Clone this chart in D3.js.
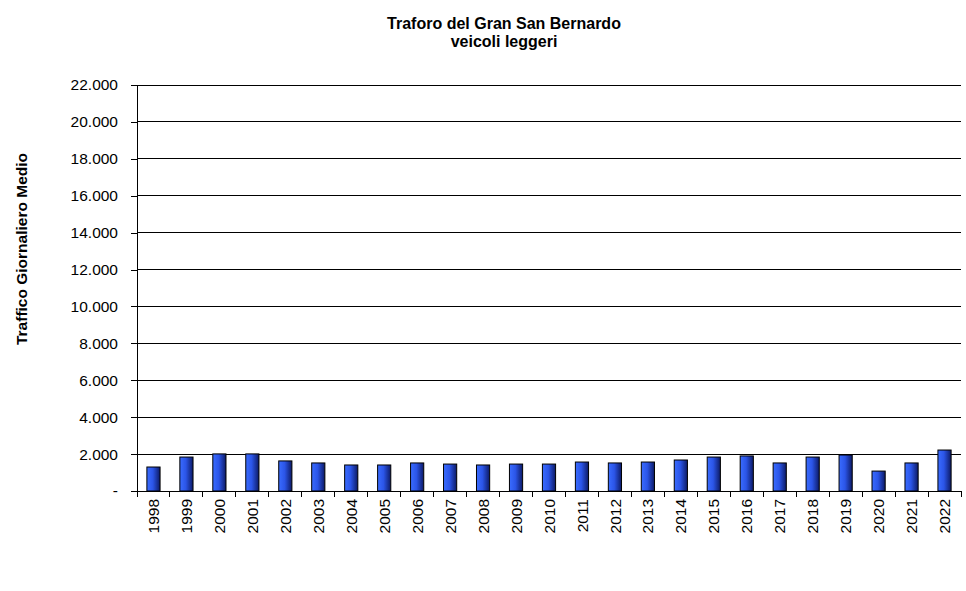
<!DOCTYPE html>
<html><head><meta charset="utf-8">
<script src="https://cdn.jsdelivr.net/npm/d3@7"></script>
<style>body{margin:0;background:#fff}svg{display:block}text{font-family:Arial,"Liberation Sans",sans-serif}</style>
</head><body>
<svg id="c" width="966" height="591"></svg>
<script>
const years = ["1998","1999","2000","2001","2002","2003","2004","2005","2006","2007","2008","2009","2010","2011","2012","2013","2014","2015","2016","2017","2018","2019","2020","2021","2022"];
const values = [1300,1840,2010,2010,1630,1520,1410,1410,1520,1460,1410,1460,1460,1570,1520,1570,1680,1840,1900,1520,1840,1950,1080,1520,2220];
const yTicks = [0,2000,4000,6000,8000,10000,12000,14000,16000,18000,20000,22000];
const titleLines = ["Traforo del Gran San Bernardo","veicoli leggeri"];
const yTitle = "Traffico Giornaliero Medio";

const svg = d3.select("#c");
const L=137, R=961, T=85, B=491;
const x = d3.scaleBand().domain(years).range([L,R]).paddingInner(0.6).paddingOuter(0.3);
const y = d3.scaleLinear().domain([0,22000]).range([B,T]);

const defs = svg.append("defs");
const g = defs.append("linearGradient").attr("id","bg").attr("x1","0").attr("x2","1").attr("y1","0").attr("y2","0");
g.append("stop").attr("offset","0").attr("stop-color","#3a6cff");
g.append("stop").attr("offset","0.45").attr("stop-color","#2b55e8");
g.append("stop").attr("offset","1").attr("stop-color","#0c1a66");

const fmt = v => v===0 ? "-" : d3.format(",")(v).replace(/,/g,".");

// gridlines
svg.append("g").selectAll("line").data(yTicks.filter(d=>d>0)).join("line")
  .attr("x1",L).attr("x2",R).attr("y1",d=>y(d)).attr("y2",d=>y(d))
  .attr("stroke","#000").attr("stroke-width",1).attr("shape-rendering","crispEdges");

// y axis
const ya = svg.append("g").attr("transform",`translate(${L},0)`)
  .call(d3.axisLeft(y).tickValues(yTicks).tickFormat(fmt).tickSize(6).tickPadding(13));
ya.select(".domain").attr("stroke","#000").attr("shape-rendering","crispEdges");
ya.selectAll(".tick line").attr("stroke","#000").attr("shape-rendering","crispEdges");
ya.selectAll("text").attr("font-size","15.5px").attr("fill","#000").attr("font-family","Arial, 'Liberation Sans', sans-serif");

// bars
svg.append("g").selectAll("rect").data(values).join("rect")
  .attr("x",(d,i)=>x(years[i])).attr("width",x.bandwidth())
  .attr("y",d=>y(d)).attr("height",d=>B-y(d))
  .attr("fill","url(#bg)").attr("stroke","#000").attr("stroke-width",1);

// x axis
const xa = svg.append("g").attr("transform",`translate(0,${B})`)
  .call(d3.axisBottom(x).tickSize(0).tickPadding(0));
xa.select(".domain").attr("stroke","#000").attr("shape-rendering","crispEdges");
xa.selectAll(".tick text").attr("font-size","15.5px").attr("fill","#000")
  .attr("font-family","Arial, 'Liberation Sans', sans-serif")
  .attr("text-anchor","end").attr("dy","0.36em")
  .attr("transform","translate(0,8) rotate(-90)");
// boundary ticks
const bounds = d3.range(years.length+1).map(i=>L+i*(R-L)/years.length);
svg.append("g").selectAll("line").data(bounds).join("line")
  .attr("x1",d=>d).attr("x2",d=>d).attr("y1",B).attr("y2",B+6)
  .attr("stroke","#000").attr("shape-rendering","crispEdges");

// titles
svg.append("text").attr("x",504).attr("y",29).attr("text-anchor","middle")
  .attr("font-size","16px").attr("font-weight","bold").text(titleLines[0]);
svg.append("text").attr("x",504).attr("y",47).attr("text-anchor","middle")
  .attr("font-size","16px").attr("font-weight","bold").text(titleLines[1]);
svg.append("text").attr("transform","translate(27,249) rotate(-90)").attr("text-anchor","middle")
  .attr("font-size","15.5px").attr("font-weight","bold").text(yTitle);
</script>
</body></html>
